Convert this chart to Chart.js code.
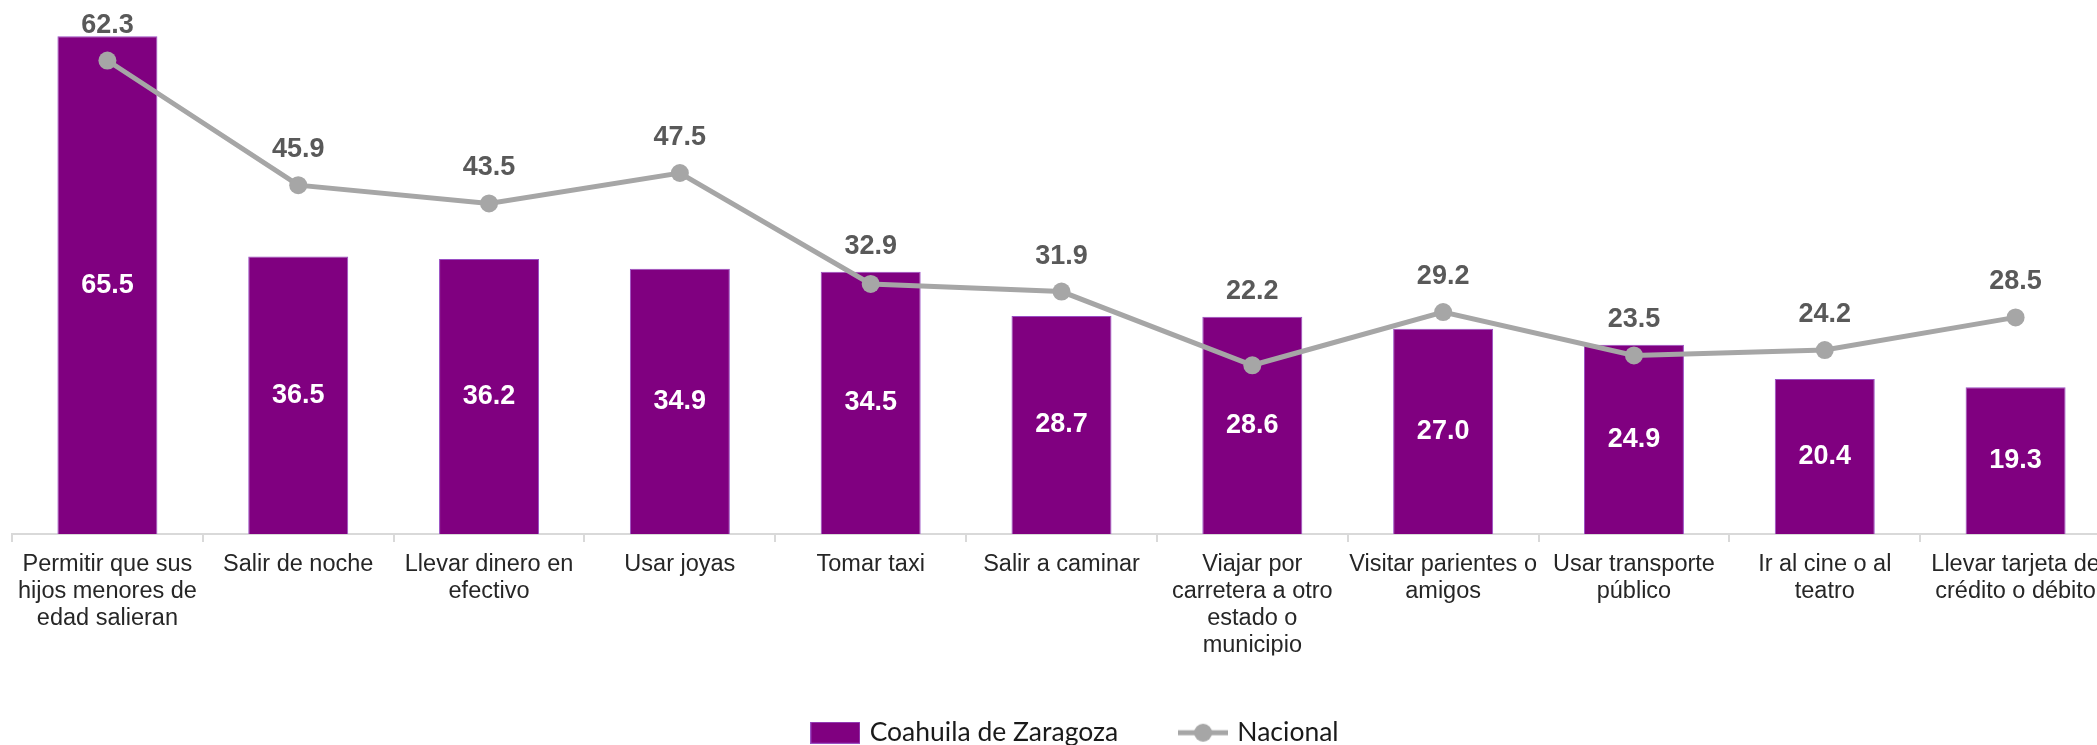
<!DOCTYPE html>
<html>
<head>
<meta charset="utf-8">
<script src="https://cdn.jsdelivr.net/npm/chart.js@4/dist/chart.umd.min.js"></script>
<style>
  html, body { margin: 0; padding: 0; background: #fff; overflow: hidden; }
  #chart { position: absolute; left: 0; top: 0; }
</style>
</head>
<body>
<canvas id="chart" width="2112" height="756"></canvas>
<script>
// categories (wrapped the way the original shows them)
const categories = [
  ['Permitir que sus', 'hijos menores de', 'edad salieran'],
  ['Salir de noche'],
  ['Llevar dinero en', 'efectivo'],
  ['Usar joyas'],
  ['Tomar taxi'],
  ['Salir a caminar'],
  ['Viajar por', 'carretera a otro', 'estado o', 'municipio'],
  ['Visitar parientes o', 'amigos'],
  ['Usar transporte', 'público'],
  ['Ir al cine o al', 'teatro'],
  ['Llevar tarjeta de', 'crédito o débito']
];
const coahuila = [65.5, 36.5, 36.2, 34.9, 34.5, 28.7, 28.6, 27.0, 24.9, 20.4, 19.3];
const nacional = [62.3, 45.9, 43.5, 47.5, 32.9, 31.9, 22.2, 29.2, 23.5, 24.2, 28.5];
const seriesNames = ['Coahuila de Zaragoza', 'Nacional'];

const PURPLE = '#800080';
const GRAY = '#a6a6a6';

// legend swatches: a purple box and a line with a dot
function barSwatch() {
  const c = document.createElement('canvas');
  c.width = 50; c.height = 22;
  const g = c.getContext('2d');
  g.fillStyle = PURPLE;
  g.fillRect(0, 0, 50, 22);
  g.strokeStyle = '#9a4fc4';
  g.lineWidth = 1;
  g.strokeRect(0.5, 0.5, 49, 21);
  return c;
}
function lineSwatch() {
  const c = document.createElement('canvas');
  c.width = 50; c.height = 22;
  const g = c.getContext('2d');
  g.strokeStyle = GRAY;
  g.lineWidth = 5;
  g.beginPath(); g.moveTo(0, 11); g.lineTo(50, 11); g.stroke();
  g.fillStyle = GRAY;
  g.beginPath(); g.arc(25, 11, 9, 0, Math.PI * 2); g.fill();
  return c;
}
const swatches = [barSwatch(), lineSwatch()];

// value labels drawn on top of the marks
const valueLabels = {
  id: 'valueLabels',
  afterLayout(chart) {
    // the original legend sits a little right of centre
    chart.legend.left += 15;
    chart.legend.right += 15;
  },
  afterDatasetsDraw(chart) {
    const ctx = chart.ctx;
    const barMeta = chart.getDatasetMeta(0);
    ctx.save();
    ctx.font = 'bold 27px "Liberation Sans", Arial, sans-serif';
    ctx.textAlign = 'center';
    chart.data.datasets.forEach((ds, i) => {
      const meta = chart.getDatasetMeta(i);
      meta.data.forEach((el, j) => {
        const txt = ds.data[j].toFixed(1);
        if (ds.type === 'bar') {
          ctx.fillStyle = '#ffffff';
          ctx.textBaseline = 'middle';
          ctx.fillText(txt, el.x, (el.y + el.base) / 2);
        } else {
          // keep the label clear of the bar underneath, but inside the canvas
          const barTop = barMeta.data[j].y;
          let y = Math.min(el.y - 28, barTop - 18);
          y = Math.max(y, chart.chartArea.top + 31);
          ctx.fillStyle = '#595959';
          ctx.textBaseline = 'alphabetic';
          ctx.fillText(txt, el.x, y);
        }
      });
    });
    ctx.restore();
  }
};

new Chart(document.getElementById('chart'), {
  data: {
    labels: categories,
    datasets: [
      {
        type: 'bar',
        label: seriesNames[0],
        data: coahuila,
        backgroundColor: PURPLE,
        borderColor: '#9a4fc4',
        borderWidth: 1,
        categoryPercentage: 1,
        barPercentage: 0.524,
        order: 1
      },
      {
        type: 'line',
        label: seriesNames[1],
        data: nacional,
        borderColor: GRAY,
        backgroundColor: GRAY,
        borderWidth: 5,
        pointRadius: 9,
        pointHoverRadius: 9,
        pointBackgroundColor: GRAY,
        pointBorderWidth: 0,
        tension: 0,
        order: 0
      }
    ]
  },
  options: {
    responsive: false,
    animation: false,
    layout: { autoPadding: false, padding: { left: 12, right: 1, top: 2, bottom: 0 } },
    scales: {
      x: {
        // labels may run into the legend strip, as in the original
        afterFit(scale) { scale.height -= 12.5; },
        grid: {
          display: true,
          drawOnChartArea: false,
          drawTicks: true,
          tickLength: 8,
          color: '#d9d9d9',
          lineWidth: 2,
          offset: true
        },
        border: { display: true, color: '#d9d9d9', width: 2 },
        ticks: {
          autoSkip: false,
          maxRotation: 0,
          minRotation: 0,
          padding: 9,
          color: '#262626',
          font: { family: '"Liberation Sans", Arial, sans-serif', size: 23.5, lineHeight: 27 / 23.5 }
        }
      },
      y: { display: false, min: 0, max: 70 }
    },
    plugins: {
      tooltip: { enabled: false },
      legend: {
        position: 'bottom',
        labels: {
          usePointStyle: true,
          pointStyleWidth: 42,
          padding: 64,
          color: '#1a1a1a',
          font: { family: 'Lato, "Open Sans", sans-serif', size: 26.5 },
          sort: (a, b) => a.datasetIndex - b.datasetIndex,
          generateLabels(chart) {
            const items = Chart.defaults.plugins.legend.labels.generateLabels(chart);
            items.forEach((it) => { it.pointStyle = swatches[it.datasetIndex]; });
            return items;
          }
        }
      }
    }
  },
  plugins: [valueLabels]
});
</script>
</body>
</html>
